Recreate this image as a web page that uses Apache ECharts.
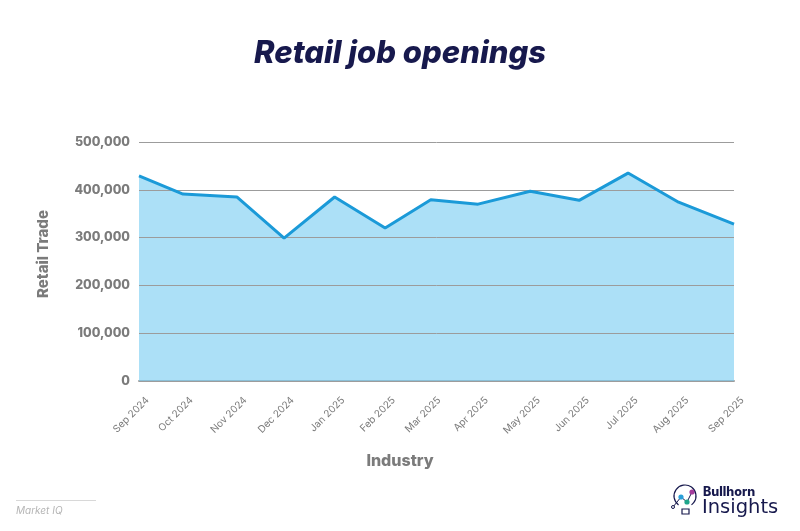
<!DOCTYPE html>
<html>
<head>
<meta charset="utf-8">
<title>Retail job openings</title>
<script src="https://cdn.jsdelivr.net/npm/echarts@6/dist/echarts.min.js"></script>
<style>
html, body { margin: 0; padding: 0; background: #fff; }
#main { width: 800px; height: 531px; }
</style>
</head>
<body>
<div id="main"></div>
<script>
var myChart = echarts.init(document.getElementById('main'));

var months = ['Sep 2024', 'Oct 2024', 'Nov 2024', 'Dec 2024', 'Jan 2025', 'Feb 2025', 'Mar 2025',
    'Apr 2025', 'May 2025', 'Jun 2025', 'Jul 2025', 'Aug 2025', 'Sep 2025'];
// the points are not evenly spaced in the original, so each month keeps its own date
var dates = ['2024-09-01', '2024-09-28', '2024-10-31', '2024-11-29', '2024-12-30', '2025-01-30', '2025-02-27',
    '2025-03-28', '2025-04-29', '2025-05-29', '2025-06-28', '2025-07-29', '2025-09-01'];
var openings = [429000, 391000, 385000, 299000, 385000, 320000, 379000, 370000, 397000, 378000, 435000, 374000, 328000];

var fontName = 'Inter';
var grey = '#7b7b7b';
var navy = '#17194d';

var times = dates.map(function (d) { return +new Date(d + 'T00:00:00Z'); });
var points = times.map(function (t, i) { return [t, openings[i]]; });

var option = {
    animation: false,
    backgroundColor: '#fff',
    title: {
        text: 'Retail job openings',
        left: 'center',
        top: 33,
        textStyle: { fontFamily: fontName, fontSize: 31, fontWeight: 800, fontStyle: 'italic', color: navy }
    },
    grid: { left: 139, right: 66, top: 142, bottom: 150 },
    xAxis: {
        type: 'value',
        min: times[0],
        max: times[times.length - 1],
        name: 'Industry',
        nameLocation: 'middle',
        nameGap: 72,
        nameTextStyle: { fontFamily: fontName, fontSize: 16, fontWeight: 800, color: grey, padding: [0, 73, 0, 0] },
        axisTick: { show: false },
        splitLine: { show: false },
        axisLine: { lineStyle: { color: '#a0a0a0', width: 2 } },
        axisLabel: {
            customValues: times,
            rotate: 45,
            margin: 9,
            verticalAlign: 'top',
            padding: [7, 0, 0, 0],
            showMinLabel: true,
            showMaxLabel: true,
            hideOverlap: false,
            fontFamily: fontName,
            fontSize: 10,
            color: grey,
            formatter: function (v) { return months[times.indexOf(v)]; }
        }
    },
    yAxis: {
        type: 'value',
        min: 0,
        max: 500000,
        interval: 100000,
        z: 2,
        name: 'Retail Trade',
        nameLocation: 'middle',
        nameGap: 88,
        nameTextStyle: { fontFamily: fontName, fontSize: 15, fontWeight: 800, color: grey, padding: [0, 0, 0, 15] },
        axisLine: { show: false },
        axisTick: { show: false },
        axisLabel: {
            margin: 9,
            padding: [0, 0, 4, 0],
            fontFamily: fontName,
            fontSize: 12.5,
            fontWeight: 800,
            color: grey,
            formatter: function (v) { return v.toLocaleString('en-US'); }
        },
        splitLine: { lineStyle: { color: '#9c9c9c', width: 1 } }
    },
    series: [{
        type: 'line',
        data: points,
        symbol: 'none',
        z: 1,
        lineStyle: { width: 0 },
        areaStyle: { color: '#7fcff2', opacity: 0.65 }
    }, {
        type: 'line',
        data: points,
        symbol: 'none',
        z: 3,
        lineStyle: { color: '#1b9ad8', width: 3 }
    }],
    graphic: [
        { type: 'rect', shape: { x: 16, y: 500, width: 80, height: 1 }, style: { fill: '#d8d8d8' } },
        { type: 'text', x: 16, y: 506, style: { text: 'Market IQ', font: 'italic 10px ' + fontName, fill: '#b5b5b5' } },
        // logo
        { type: 'text', x: 703, y: 486, style: { text: 'Bullhorn', font: '800 12.5px ' + fontName, fill: navy } },
        { type: 'text', x: 702, y: 498, style: { text: 'Insights', font: '400 19.5px "DejaVu Sans"', fill: navy } },
        { type: 'arc', shape: { cx: 685, cy: 496, r: 11, startAngle: 2.2, endAngle: 0.94 }, style: { fill: 'none', stroke: navy, lineWidth: 1.2 } },
        { type: 'rect', shape: { x: 682, y: 509, width: 7, height: 5 }, style: { fill: '#fff', stroke: navy, lineWidth: 1.2 } },
        { type: 'polyline', shape: { points: [[673, 507], [681, 497], [687, 502], [692, 492]] }, style: { fill: 'none', stroke: navy, lineWidth: 1 } },
        { type: 'circle', shape: { cx: 673, cy: 507, r: 1.5 }, style: { fill: '#fff', stroke: navy, lineWidth: 1 } },
        { type: 'circle', shape: { cx: 681, cy: 497, r: 2.6 }, style: { fill: '#2a9fd8' } },
        { type: 'circle', shape: { cx: 687, cy: 502, r: 2.6 }, style: { fill: '#1fa58a' } },
        { type: 'circle', shape: { cx: 692, cy: 492, r: 2.6 }, style: { fill: '#a43c9c' } }
    ]
};

myChart.setOption(option);
</script>
</body>
</html>
